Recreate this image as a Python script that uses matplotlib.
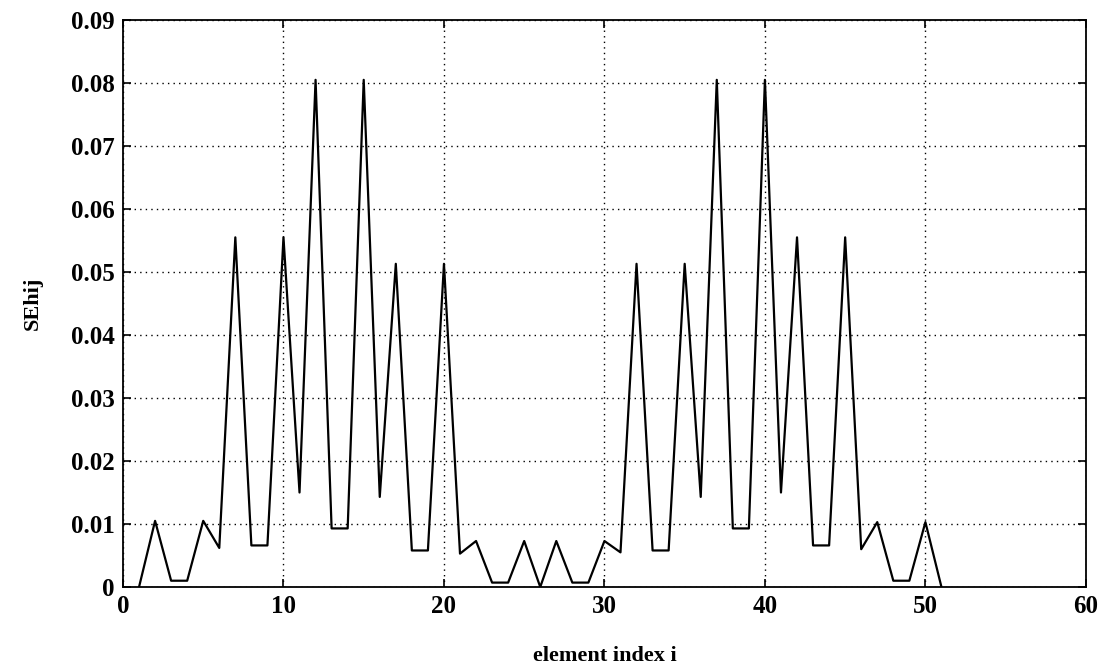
import matplotlib
matplotlib.use("Agg")
import matplotlib.pyplot as plt

# element index and sensitivity values
element_index = list(range(1, 52))
sehij = [
    0.0, 0.0105, 0.001, 0.001, 0.0105, 0.0062, 0.0555, 0.0066, 0.0066, 0.0555,
    0.0150, 0.0805, 0.0093, 0.0093, 0.0805, 0.0143, 0.0513, 0.0058, 0.0058, 0.0513,
    0.0053, 0.0073, 0.0007, 0.0007, 0.0073, 0.0, 0.0073, 0.0007, 0.0007, 0.0073,
    0.0055, 0.0513, 0.0058, 0.0058, 0.0513, 0.0143, 0.0805, 0.0093, 0.0093, 0.0805,
    0.0150, 0.0555, 0.0066, 0.0066, 0.0555, 0.0060, 0.0103, 0.001, 0.001, 0.0103,
    0.0,
]
x_ticks = [0, 10, 20, 30, 40, 50, 60]
y_ticks = [0, 0.01, 0.02, 0.03, 0.04, 0.05, 0.06, 0.07, 0.08, 0.09]
y_labels = ["0", "0.01", "0.02", "0.03", "0.04", "0.05", "0.06", "0.07", "0.08", "0.09"]

plt.rcParams["font.family"] = ["Liberation Serif", "DejaVu Serif"]
plt.rcParams["font.weight"] = "bold"

fig = plt.figure(figsize=(11.11, 6.66), dpi=100)
ax = fig.add_axes([0.1107, 0.1186, 0.8667, 0.8514])

ax.plot(element_index, sehij, color="black", lw=1.6)

ax.set_xlim(0, 60)
ax.set_ylim(0, 0.09)
ax.set_xticks(x_ticks)
ax.set_yticks(y_ticks)
ax.set_yticklabels(y_labels)
ax.tick_params(direction="in", top=True, right=True, length=6, width=1.2,
               labelsize=18, pad=6)
ax.grid(True, color="black", linestyle=(0, (1, 3)), linewidth=1.0)
for s in ax.spines.values():
    s.set_linewidth(1.3)

ax.set_xlabel("element index i", fontsize=16, fontweight="bold", labelpad=20)
ax.set_ylabel("SEhij", fontsize=16, fontweight="bold", labelpad=20)

fig.savefig("out.png", dpi=100)
